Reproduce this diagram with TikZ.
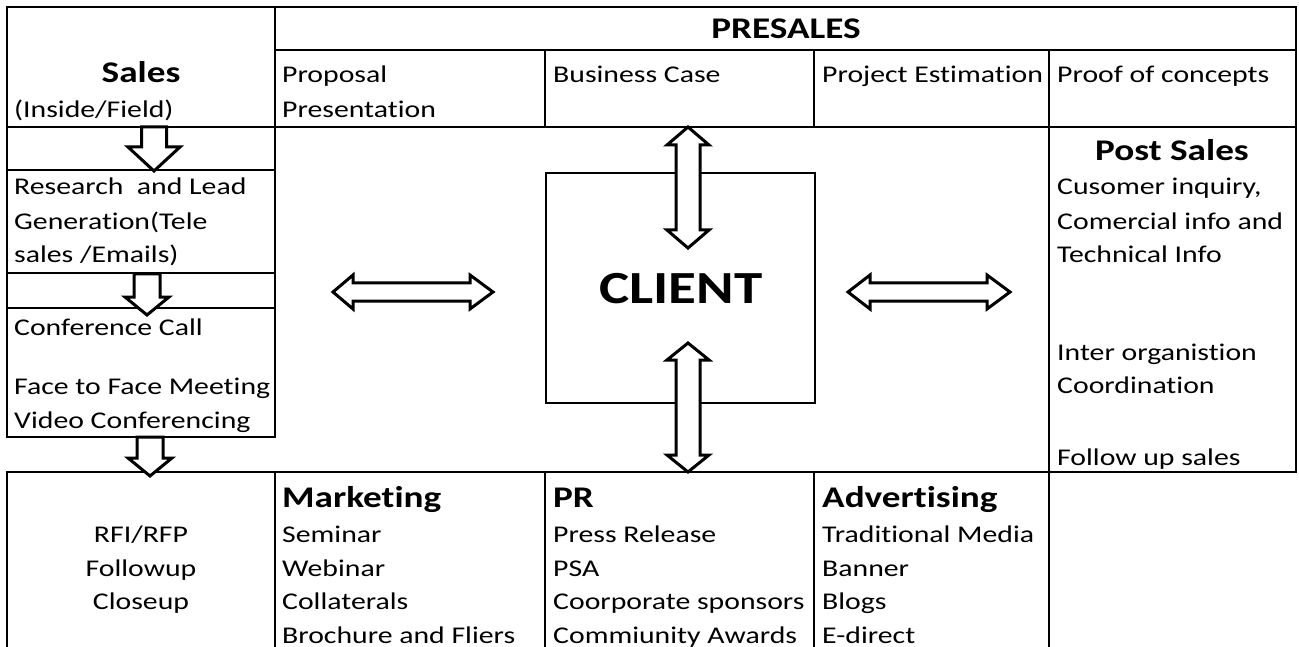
\documentclass[tikz,border=0pt]{standalone}
\usepackage{fontspec}
\setmainfont{Carlito}[FakeStretch=1.24, Ligatures={NoCommon}]

% text sizes (1pt = 1 unit of the drawing)
\newcommand\txtfont{\fontsize{24}{34}\selectfont}
\newcommand\hdfont{\fontsize{30}{36}\selectfont\bfseries}
\newcommand\bigfont{\fontsize{46}{52}\selectfont\bfseries}

% hollow block arrows
% down arrow: cx, shaft half width, head half width, top y, head base y, tip y
\newcommand\blkdown[6]{%
  \draw[blk] ({#1-#2},#4) -- ({#1-#2},#5) -- ({#1-#3},#5) -- (#1,#6)
    -- ({#1+#3},#5) -- ({#1+#2},#5) -- ({#1+#2},#4) -- cycle;}
% vertical double arrow: cx, shaft half, head half, tip1, base1, base2, tip2
\newcommand\blkvert[7]{%
  \draw[blk] (#1,#4) -- ({#1+#3},#5) -- ({#1+#2},#5) -- ({#1+#2},#6)
    -- ({#1+#3},#6) -- (#1,#7) -- ({#1-#3},#6) -- ({#1-#2},#6)
    -- ({#1-#2},#5) -- ({#1-#3},#5) -- cycle;}
% horizontal double arrow: cy, shaft half, head half, tip1, base1, base2, tip2
\newcommand\blkhorz[7]{%
  \draw[blk] (#4,#1) -- (#5,{#1-#3}) -- (#5,{#1-#2}) -- (#6,{#1-#2})
    -- (#6,{#1-#3}) -- (#7,#1) -- (#6,{#1+#3}) -- (#6,{#1+#2})
    -- (#5,{#1+#2}) -- (#5,{#1+#3}) -- cycle;}

\begin{document}
\begin{tikzpicture}[x=1pt,y=-1pt,
  grid/.style={line width=2.4pt, line cap=rect},
  blk/.style={draw, fill=white, line width=3pt},
  lbl/.style={anchor=base west, inner sep=0pt, font=\txtfont},
  clbl/.style={anchor=base, inner sep=0pt, font=\txtfont},
  hd/.style={anchor=base west, inner sep=0pt, font=\hdfont},
  chd/.style={anchor=base, inner sep=0pt, font=\hdfont}]
\useasboundingbox (0,0) rectangle (1299,647);

% ---- table rules ----
\draw[grid] (7,7) -- (1296,7);
\draw[grid] (275,50) -- (1296,50);
\draw[grid] (7,127) -- (1296,127);
\draw[grid] (7,7) -- (7,437);
\draw[grid] (275,7) -- (275,437);
\draw[grid] (1296,7) -- (1296,472);
\foreach \yy in {170,273,308,437} \draw[grid] (7,\yy) -- (275,\yy);
\draw[grid] (545,50) -- (545,127);
\draw[grid] (814,50) -- (814,127);
\draw[grid] (1049,50) -- (1049,647);
\draw[grid] (7,472) -- (1296,472);
\foreach \xx in {7,275,545,814} \draw[grid] (\xx,472) -- (\xx,650);

% ---- client box ----
\node[draw, line width=2.4pt, minimum width=269pt, minimum height=230pt,
      anchor=north west, inner sep=0pt, font=\bigfont] (client) at (545,172) {CLIENT};

% ---- presales ----
\node[chd] (presales) at (786,39) {PRESALES};
\node[lbl] (prop1) at (282,83) {Proposal};
\node[lbl] (prop2) at (282,118) {Presentation};
\node[lbl] (bcase) at (553,83) {Business Case};
\node[lbl] (pest) at (822,83) {Project Estimation};
\node[lbl] (poc) at (1057,83) {Proof of concepts};

% ---- sales column ----
\node[chd] (sales) at (141,83) {Sales};
\node[lbl] (salessub) at (14,118) {(Inside/Field)};
\node[lbl] (res1) at (14,195) {Research\ \ and Lead};
\node[lbl] (res2) at (14,230) {Generation(Tele};
\node[lbl] (res3) at (14,263) {sales /Emails)};
\node[lbl] (conf1) at (14,335) {Conference Call};
\node[lbl] (conf2) at (14,394) {Face to Face Meeting};
\node[lbl] (conf3) at (14,428) {Video Conferencing};

% ---- post sales column ----
\node[chd] (post) at (1172,161) {Post Sales};
\node[lbl] (ps1) at (1057,195) {Cusomer inquiry,};
\node[lbl] (ps2) at (1057,230) {Comercial info and};
\node[lbl] (ps3) at (1057,263) {Technical Info};
\node[lbl] (ps4) at (1057,360) {Inter organistion};
\node[lbl] (ps5) at (1057,393) {Coordination};
\node[lbl] (ps6) at (1057,465) {Follow up sales};

% ---- bottom row ----
\node[clbl] (rfi1) at (141,542) {RFI/RFP};
\node[clbl] (rfi2) at (141,576) {Followup};
\node[clbl] (rfi3) at (141,609) {Closeup};

\node[hd] (mkt) at (282,507) {Marketing};
\node[lbl] (mkt1) at (282,542) {Seminar};
\node[lbl] (mkt2) at (282,576) {Webinar};
\node[lbl] (mkt3) at (282,609) {Collaterals};
\node[lbl] (mkt4) at (282,643) {Brochure and Fliers};

\node[hd] (pr) at (553,507) {PR};
\node[lbl] (pr1) at (553,542) {Press Release};
\node[lbl] (pr2) at (553,576) {PSA};
\node[lbl] (pr3) at (553,609) {Coorporate sponsors};
\node[lbl] (pr4) at (553,643) {Commiunity Awards};

\node[hd] (adv) at (822,507) {Advertising};
\node[lbl] (adv1) at (822,542) {Traditional Media};
\node[lbl] (adv2) at (822,576) {Banner};
\node[lbl] (adv3) at (822,609) {Blogs};
\node[lbl] (adv4) at (822,643) {E-direct};

% ---- block arrows ----
\blkdown{154}{12.5}{26}{127}{147}{171}
\blkdown{147}{13}{22}{274}{297}{315}
\blkdown{150}{13}{22}{437}{458}{476}
\blkvert{688}{12}{21}{127}{145}{230}{248}
\blkvert{688}{12}{21}{343}{360}{455}{472}
\blkhorz{292}{9}{17}{333}{353}{470}{493}
\blkhorz{292}{9}{17}{848}{870}{987}{1010}
\end{tikzpicture}
\end{document}
